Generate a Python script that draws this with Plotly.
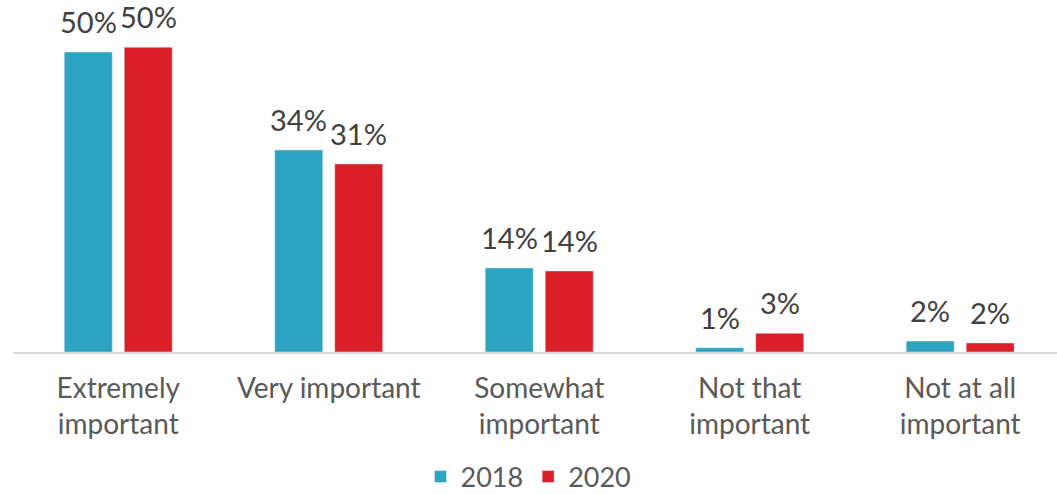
import plotly.graph_objects as go

categories = ["Extremely<br>important", "Very important", "Somewhat<br>important",
              "Not that<br>important", "Not at all<br>important"]
values_2018 = [49.6, 33.4, 13.9, 0.7, 1.8]
values_2020 = [50.4, 31.1, 13.4, 3.1, 1.5]
labels_2018 = ["50%", "34%", "14%", "1%", "2%"]
labels_2020 = ["50%", "31%", "14%", "3%", "2%"]

FONT = "Lato, Noto Sans, sans-serif"
x = list(range(len(categories)))

fig = go.Figure()
fig.add_trace(go.Bar(x=x, y=values_2018, name="2018", marker_color="#2CA3C0"))
fig.add_trace(go.Bar(x=x, y=values_2020, name="2020", marker_color="#DA1F28"))

for series, labels, shift in ((values_2018, labels_2018, -30), (values_2020, labels_2020, 30)):
    for xi, v, t in zip(x, series, labels):
        fig.add_annotation(x=xi, y=v, text=t, showarrow=False, xshift=shift,
                           yanchor="bottom", yshift=11,
                           font=dict(size=29, color="#404040", family=FONT))

fig.update_layout(
    width=1057, height=494,
    margin=dict(l=13, r=0, t=0, b=142),
    paper_bgcolor="white", plot_bgcolor="white",
    barmode="group", bargap=0.43, bargroupgap=0.2,
    font=dict(family=FONT, color="#595959", size=28),
    legend=dict(orientation="h", x=0.5, xanchor="center", xref="container",
                y=17 / 494, yanchor="middle", yref="container",
                font=dict(size=27, color="#595959")),
    showlegend=True,
)
fig.update_xaxes(tickmode="array", tickvals=x, ticktext=categories, automargin=False,
                 range=[-0.5, 4.46], showline=True, linecolor="#D9D9D9", linewidth=2,
                 ticks="", ticklabelstandoff=10, showgrid=False,
                 tickfont=dict(size=28, color="#595959"))
fig.update_yaxes(range=[0, 58.2], visible=False, showgrid=False)

fig.write_html("out.html")
